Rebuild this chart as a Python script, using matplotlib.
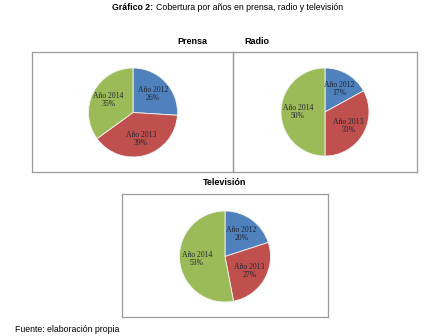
import matplotlib.pyplot as plt

# datos
anios = ['Año 2012', 'Año 2013', 'Año 2014']
prensa = [26, 39, 35]
radio = [17, 33, 50]
television = [20, 27, 53]
colores = ['#4F81BD', '#C0504D', '#9BBB59']

W, H = 435, 336
fig = plt.figure(figsize=(W / 100, H / 100), dpi=100)
fig.patch.set_facecolor('white')


def caja(x0, y0, x1, y1):
    # marco gris del panel, en pixeles desde arriba a la izquierda
    ax = fig.add_axes([x0 / W, 1 - y1 / H, (x1 - x0) / W, (y1 - y0) / H])
    ax.set_xticks([])
    ax.set_yticks([])
    ax.patch.set_alpha(0)
    for s in ax.spines.values():
        s.set_color('#9a9a9a')
        s.set_linewidth(0.9)
    return ax


def tarta(cx, cy, r, valores):
    ax = fig.add_axes([(cx - r) / W, 1 - (cy + r) / H, 2 * r / W, 2 * r / H])
    etiquetas = iter(f'{a}\n{v}%' for a, v in zip(anios, valores))
    ax.pie(valores, colors=colores, startangle=90, counterclock=False,
           autopct=lambda p: next(etiquetas), pctdistance=0.62,
           wedgeprops=dict(edgecolor='#f4f4f4', linewidth=0.6))
    for t in ax.texts:
        t.set_fontsize(5.5)
        t.set_family('Liberation Serif')
        t.set_color('#1f2430')
        t.set_linespacing(1.0)
    ax.set_xlim(-1, 1)
    ax.set_ylim(-1, 1)
    ax.set_aspect('auto')
    ax.axis('off')


caja(32, 52, 233, 172)
caja(233, 52, 417, 172)
caja(122, 194, 328, 317)

tarta(133, 112.5, 44.5, prensa)
tarta(325, 112, 44, radio)
tarta(225, 256.5, 45.5, television)

sans = 'Liberation Sans'
fig.text(153 / W, 1 - 8 / H, 'Gráfico 2:', ha='right', va='center',
         fontsize=6.3, fontweight='bold', family=sans)
fig.text(156 / W, 1 - 8 / H, 'Cobertura por años en prensa, radio y televisión',
         ha='left', va='center', fontsize=6.3, family=sans)

fig.text(192 / W, 1 - 41 / H, 'Prensa', ha='center', va='center',
         fontsize=6.5, fontweight='bold', family=sans)
fig.text(257 / W, 1 - 41 / H, 'Radio', ha='center', va='center',
         fontsize=6.5, fontweight='bold', family=sans)
fig.text(225 / W, 1 - 183 / H, 'Televisión', ha='center', va='center',
         fontsize=6.5, fontweight='bold', family=sans)

fig.text(15 / W, 1 - 329 / H, 'Fuente: elaboración propia', ha='left', va='center',
         fontsize=6.3, family=sans)

fig.savefig('out.png', dpi=100, facecolor='white')
